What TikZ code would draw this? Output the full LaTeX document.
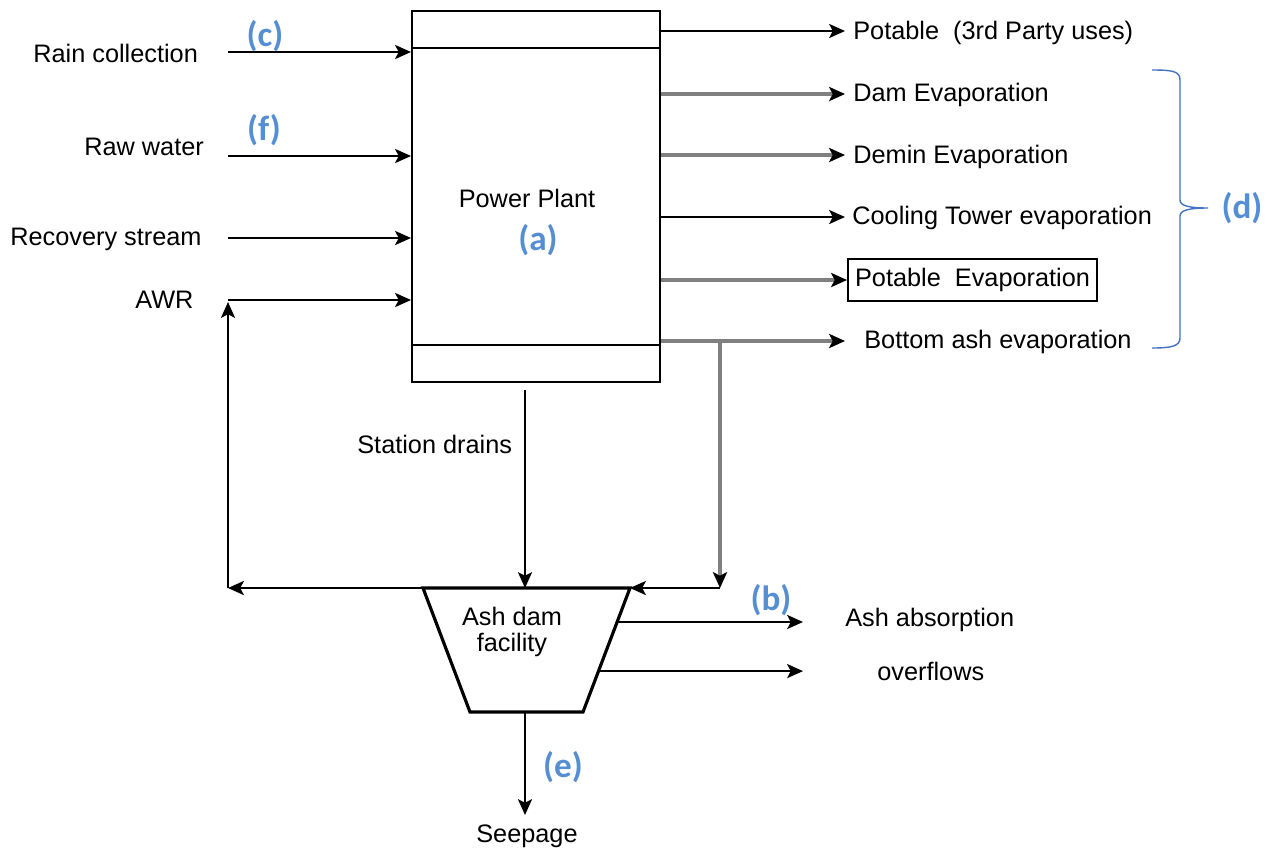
\documentclass[tikz,border=0pt]{standalone}
\usepackage{fontspec}
\setmainfont{Liberation Sans}
\newfontfamily\lblfont{Carlito}
\usetikzlibrary{arrows.meta,calc}
\definecolor{lblblue}{RGB}{86,142,212}
\definecolor{braceblue}{RGB}{68,114,196}
\definecolor{flowgray}{RGB}{128,128,128}
\begin{document}
\begin{tikzpicture}[x=0.02cm,y=-0.02cm,
  txt/.style={font=\fontsize{14.4}{16}\selectfont, inner sep=0pt, anchor=west},
  lbl/.style={font=\lblfont\bfseries\fontsize{20}{22}\selectfont, text=lblblue, inner sep=0pt},
  blk/.style={draw=black, line width=1.2pt, -{Stealth[length=9pt,width=8pt,inset=2pt]}},
  gry/.style={draw=flowgray, line width=1.8pt, -{Stealth[length=9pt,width=8pt,inset=2pt,fill=black,color=black]}},
]
\useasboundingbox (0,0) rectangle (1271,850);

% Power plant box
\node[draw, line width=1.2pt, minimum width=4.96cm, minimum height=7.42cm, inner sep=0pt] (pp) at (536,196.5) {};
\draw[line width=1.2pt] (412,48) -- (660,48);
\draw[line width=1.2pt] (412,345) -- (660,345);
\node[txt, anchor=center] (pptxt) at (527,198) {Power Plant};
\node[lbl] (la) at (538,240) {(a)};

% Inputs
\node[txt] (rain) at (33,53) {Rain collection};
\node[txt] (raw) at (84,147) {Raw water};
\node[txt] (rec) at (10,239) {Recovery stream};
\node[txt] (awr) at (135,300) {AWR};
\node[lbl] (lc) at (265,36) {(c)};
\node[lbl] (lf) at (264,130) {(f)};
\coordinate (rainS) at (228,52);
\coordinate (rawS) at (228,156);
\coordinate (recS) at (228,238);
\coordinate (awrS) at (228,300);
\draw[blk] (rainS) -- (rainS -| pp.west);
\draw[blk] (rawS) -- (rawS -| pp.west);
\draw[blk] (recS) -- (recS -| pp.west);
\draw[blk] (awrS) -- (awrS -| pp.west);

% Outputs
\node[txt] (o1) at (853,33) {Potable\ \ (3rd Party uses)};
\node[txt] (o2) at (853,95) {Dam Evaporation};
\node[txt] (o3) at (853,157) {Demin Evaporation};
\node[txt] (o4) at (852,218) {Cooling Tower evaporation};
\node[txt, draw, line width=1.2pt, inner xsep=4pt, inner ysep=5pt] (o5) at (847,280) {Potable\ \ Evaporation};
\node[txt] (o6) at (864,342) {Bottom ash evaporation};
\coordinate (e1) at (845,31);
\coordinate (e2) at (845,94);
\coordinate (e3) at (845,155);
\coordinate (e4) at (845,217);
\coordinate (e6) at (845,341);
\draw[blk] (e1 -| pp.east) -- (e1);
\draw[gry] (e2 -| pp.east) -- (e2);
\draw[gry] (e3 -| pp.east) -- (e3);
\draw[blk] (e4 -| pp.east) -- (e4);
\draw[gry] (o5.west -| pp.east) -- (o5.west);
\draw[gry] (e6 -| pp.east) -- (e6);

% brace (d)
\draw[braceblue, line width=0.8pt] (1152,70) .. controls (1172,70) and (1180,71) .. (1180,80)
  -- (1180,200) .. controls (1180,206) and (1190,208) .. (1208,208)
  .. controls (1190,208) and (1180,210) .. (1180,216)
  -- (1180,338) .. controls (1180,346) and (1172,348) .. (1152,348);
\node[lbl] (ld) at (1242,208) {(d)};

% Ash dam trapezoid
\coordinate (tl) at (423,588);
\coordinate (tr) at (630,588);
\coordinate (br) at (583,712);
\coordinate (bl) at (470,712);
\draw[line width=1.8pt, line join=miter] (tl) -- (tr) -- (br) -- (bl) -- cycle;
\node[txt, anchor=center, align=center, font=\fontsize{14.4}{14.5}\selectfont] (ash) at (512,632) {Ash dam\\facility};

% station drains
\coordinate (sdS) at (525,390);
\coordinate (sdE) at (525,588);
\draw[blk] (sdS) -- (sdE);
\node[txt] (sd) at (357,444) {Station drains};

% bottom ash branch
\coordinate (bj) at (720,341);
\coordinate (bk) at (720,588);
\draw[gry] (bj) -- (bk);
\draw[blk] (bk) -- (tr);

% AWR loop
\coordinate (lp) at (228,588);
\draw[blk] (tl) -- (lp);
\draw[blk] (lp) -- ($(awrS)+(0,2)$);

% ash dam outputs
\coordinate (a1) at ($(tr)!0.274!(br)$);
\coordinate (a2) at ($(tr)!0.67!(br)$);
\coordinate (a1e) at (803,622);
\coordinate (a2e) at (803,671);
\draw[blk] (a1) -- (a1 -| a1e);
\draw[blk] (a2) -- (a2 -| a2e);
\node[txt] (abs) at (845,620) {Ash absorption};
\node[txt] (ovf) at (877,671) {overflows};
\node[lbl] (lb) at (771,600) {(b)};

% seepage
\coordinate (bm) at (525,712);
\coordinate (sp) at (525,815);
\draw[blk] (bm) -- (sp);
\node[txt, anchor=center] (seep) at (527,836) {Seepage};
\node[lbl] (le) at (563,767) {(e)};
\end{tikzpicture}
\end{document}
